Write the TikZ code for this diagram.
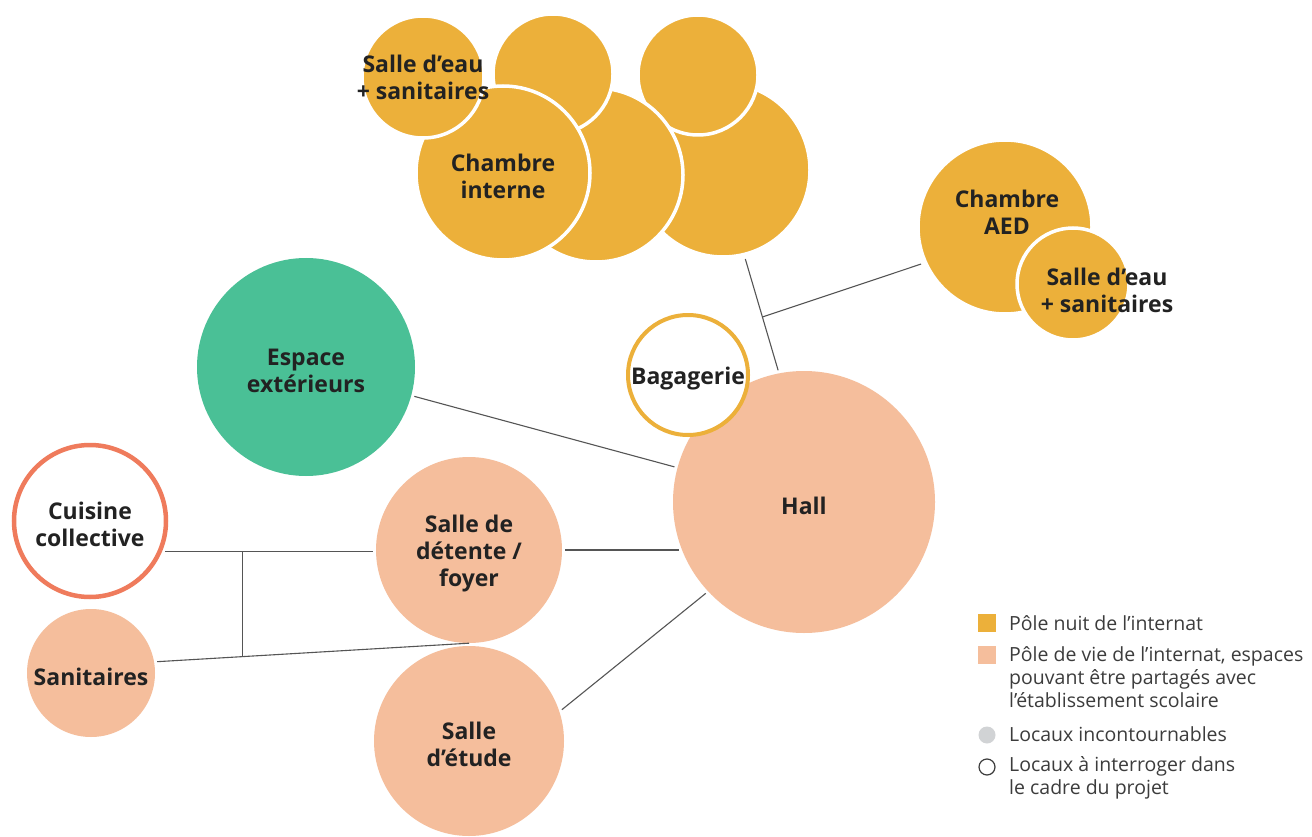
\documentclass[tikz,border=0pt]{standalone}
\usepackage{fontspec}
\setmainfont{Open Sans}
\usetikzlibrary{calc}
\definecolor{jaune}{HTML}{ECB03A}
\definecolor{peche}{HTML}{F5BE9C}
\definecolor{vert}{HTML}{4AC096}
\definecolor{corail}{HTML}{EF7B5C}
\definecolor{encre}{HTML}{222222}
\definecolor{trait}{HTML}{555555}
\definecolor{gris}{HTML}{D1D3D5}
\definecolor{legtxt}{HTML}{3C3C3C}
\tikzset{
  room/.style={circle, inner sep=0pt, minimum size=#1},
  nuit/.style={room=#1, fill=jaune, draw=white, line width=3.5pt},
  vie/.style={room=#1, fill=peche},
  roomtext/.style={inner sep=0pt, align=center, text=encre, yshift=-3.5pt,
    font=\fontsize{23}{27}\selectfont\bfseries},
  txt/.style={label={[roomtext]center:{#1}}},
  conn/.style={draw=trait, line width=1.1pt, shorten <=3pt, shorten >=3pt},
  legtext/.style={anchor=west, inner sep=0pt, align=left, text=legtxt,
    font=\fontsize{19.5}{23}\selectfont},
}
\begin{document}
\begin{tikzpicture}[x=1pt,y=-1pt]
\useasboundingbox (0,0) rectangle (1312,837);
\fill[white] (0,0) rectangle (1312,837);

% pole nuit cluster
\node[nuit=174] (ch3) at (723,170) {};
\node[nuit=120] (sm3) at (698,75) {};
\node[nuit=174] (ch2) at (596,175) {};
\node[nuit=120] (sm2) at (553,74) {};
\node[nuit=174, txt={Chambre\\interne}] (chi) at (503,173) {};
\node[nuit=122, label={[roomtext, yshift=3pt]center:{Salle d’eau\\+ sanitaires}}] (sde1) at (423,77) {};

\node[nuit=174] (aed) at (1005,227) {};
\node[roomtext] (aedt) at (1007,209) {Chambre\\AED};
\node[nuit=112] (sde2) at (1073,284) {};
\node[roomtext] (sde2t) at (1107,287) {Salle d’eau\\+ sanitaires};

% other rooms
\node[room=218, fill=vert, txt={Espace\\extérieurs}] (espace) at (306,367) {};
\node[vie=262, txt={Hall}] (hall) at (804,502) {};
\node[room=120, fill=white, draw=jaune, line width=4pt, txt={Bagagerie}] (bag) at (688,375) {};
\node[room=152, fill=white, draw=corail, line width=4.5pt, txt={Cuisine\\collective}] (cuisine) at (90,521) {};
\node[vie=128, txt={Sanitaires}] (sanit) at (91,673) {};
\node[vie=186, txt={Salle de\\détente /\\foyer}] (detente) at (469,550) {};
\node[vie=190, txt={Salle\\d’étude}] (etude) at (469,741) {};

% connectors
\draw[conn] (espace) -- (hall);
\draw[conn] (detente.east) -- (detente.east -| hall.202);
\draw[conn] (hall.223) -- (etude.18);
\draw[conn] (cuisine.337) -- (cuisine.337 -| detente.west);
\path (sanit.10) -- (detente.south) coordinate[pos=0.28] (jb);
\draw[conn, shorten >=0pt] (sanit.10) -- (detente.south);
\draw[draw=trait, line width=1.1pt] (jb) -- (jb |- cuisine.337);
\path (ch3.284) -- (hall.101) coordinate[pos=0.52] (jt);
\draw[conn] (ch3.284) -- (hall.101);
\draw[conn, shorten <=0pt] (jt) -- (aed.204);

% legend
\node[fill=jaune, minimum size=18pt, inner sep=0pt] (lg1) at (987,623) {};
\node[legtext] (lt1) at (1009,623) {Pôle nuit de l’internat};
\node[fill=peche, minimum size=18pt, inner sep=0pt] (lg2) at (987,655) {};
\node[legtext] (lt2) at (1009,677.5) {Pôle de vie de l’internat, espaces\\pouvant être partagés avec\\l’établissement scolaire};
\node[circle, fill=gris, minimum size=17pt, inner sep=0pt] (lg3) at (987,735) {};
\node[legtext] (lt3) at (1009,734) {Locaux incontournables};
\node[circle, draw=legtxt, line width=1.2pt, fill=white, minimum size=16pt, inner sep=0pt] (lg4) at (987,767) {};
\node[legtext] (lt4) at (1009,778) {Locaux à interroger dans\\le cadre du projet};
\end{tikzpicture}
\end{document}
